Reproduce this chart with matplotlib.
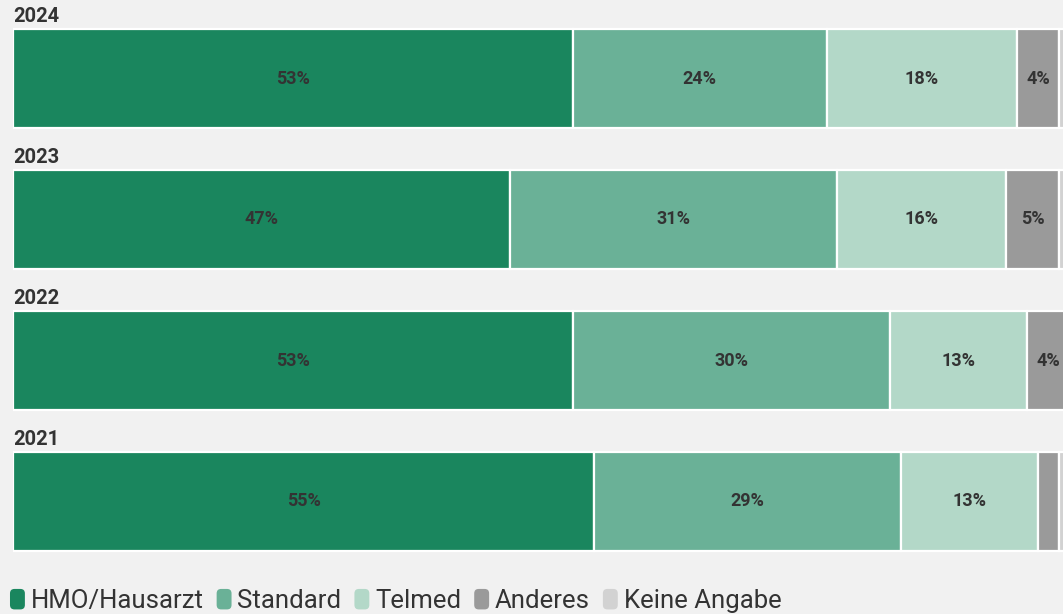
import matplotlib
matplotlib.use("Agg")
import matplotlib.pyplot as plt
from matplotlib.patches import Patch, FancyBboxPatch
from matplotlib.legend_handler import HandlerPatch

years = ["2024", "2023", "2022", "2021"]
categories = ["HMO/Hausarzt", "Standard", "Telmed", "Anderes", "Keine Angabe"]
hmo = [53, 47, 53, 55]
standard = [24, 31, 30, 29]
telmed = [18, 16, 13, 13]
anderes = [4, 5, 4, 2]
keine = [1, 1, 0, 1]
series = [hmo, standard, telmed, anderes, keine]
colors = ["#1a865e", "#6ab197", "#b3d8c8", "#9a9a9a", "#d2d2d2"]
bg = "#f1f1f1"

W, H = 1063, 614
fig = plt.figure(figsize=(W / 100, H / 100), dpi=100, facecolor=bg)
plt.rcParams['font.family'] = ['Roboto', 'DejaVu Sans']

left_px = 13
px_per_pct = 560 / 53.0
ax_h_px = 570
ax = fig.add_axes([left_px / W, 1 - ax_h_px / H, 100 * px_per_pct / W, ax_h_px / H])
ax.set_facecolor(bg)
ax.set_xlim(0, 100)
ax.set_ylim(ax_h_px, 0)
ax.axis("off")

bar_h = 99
centers = [78.5 + 141 * i for i in range(len(years))]

for i, yr in enumerate(years):
    start = 0
    for s, col in zip(series, colors):
        v = s[i]
        if v > 0:
            ax.barh(centers[i], v, left=start, height=bar_h, color=col,
                    edgecolor="white", linewidth=1.6)
            if v >= 3:
                ax.text(start + v / 2, centers[i], f"{v}%", ha="center", va="center",
                        fontsize=13, fontweight="bold", color="#333333")
        start += v
    ax.text(0, centers[i] - bar_h / 2 - 3, yr, ha="left", va="bottom",
            fontsize=14.5, fontweight="bold", color="#333333")


class RoundHandler(HandlerPatch):
    def create_artists(self, legend, orig_handle, xdescent, ydescent, width, height, fontsize, trans):
        p = FancyBboxPatch((-xdescent, -ydescent), width, height,
                           boxstyle="round,pad=0,rounding_size=%f" % (width * 0.3),
                           facecolor=orig_handle.get_facecolor(), edgecolor="none",
                           transform=trans)
        return [p]


handles = [Patch(facecolor=c, label=l) for c, l in zip(colors, categories)]
fig.legend(handles=handles, loc="center left", bbox_to_anchor=(-8 / W, 1 - 601 / H),
           ncol=5, frameon=False, fontsize=18.5, handlelength=0.58, handleheight=0.85,
           handletextpad=0.23, columnspacing=0.5, borderpad=0.2,
           handler_map={Patch: RoundHandler()}, labelcolor="#333333")

fig.savefig("out.png", dpi=100, facecolor=bg)
